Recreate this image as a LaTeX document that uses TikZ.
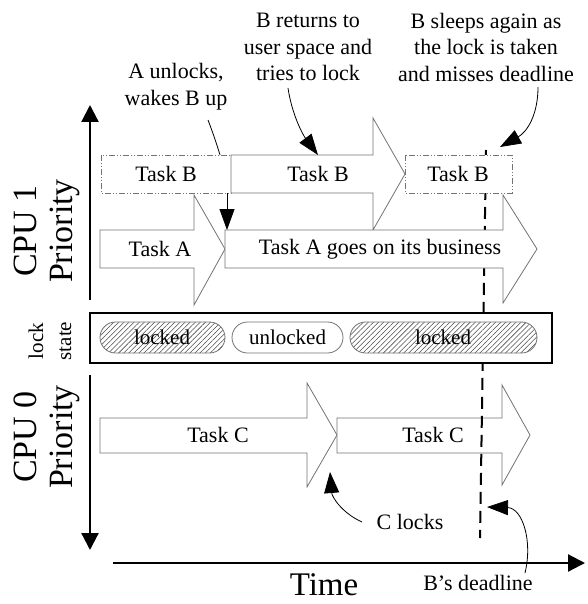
\documentclass[tikz,border=0pt]{standalone}
\usepackage{fontspec}
\setmainfont{Liberation Serif}
\usetikzlibrary{arrows.meta,patterns.meta}
\definecolor{outl}{gray}{0.45}
\definecolor{hatchc}{gray}{0.3}
\begin{document}
\begin{tikzpicture}[x=1pt,y=-1pt,
  tarrow/.style={draw=outl, line width=0.8pt, fill=white},
  dbox/.style={draw=outl, line width=0.8pt, fill=white, dash pattern=on 6pt off 2pt on 1pt off 2pt on 1pt off 2pt},
  lbl/.style={font=\fontsize{22}{26.5}\selectfont, inner sep=0pt, align=center},
  big/.style={font=\fontsize{34}{36}\selectfont, align=center, rotate=90, inner sep=0pt},
  axisline/.style={line width=2.2pt, -{Triangle[length=17pt,width=17pt]}},
  callout/.style={line width=0.8pt, -{Triangle[length=21pt,width=15pt]}},
  plainline/.style={line width=0.8pt},
  lockov/.style={draw=outl, line width=0.8pt, rounded corners=15.5pt},
  hatch/.style={lockov, pattern={Lines[angle=45,distance=3.6pt,line width=0.55pt]}, pattern color=hatchc}
]
\useasboundingbox (0,0) rectangle (587,604);

% CPU 0 tasks
\draw[tarrow] (100,418) -- (307,418) -- (307,383) -- (337,435) -- (307,487) -- (307,453) -- (100,453) -- cycle;
\node[lbl] (tc1) at (218,435) {Task C};
\draw[tarrow] (337,418) -- (502,418) -- (502,385) -- (530,435) -- (502,485) -- (502,453) -- (337,453) -- cycle;
\node[lbl] (tc2) at (433,435) {Task C};

% deadline
\coordinate (dtop) at (486,150);
\coordinate (dbot) at (480,538);
\draw[line width=2pt, dash pattern=on 12pt off 7pt] (dtop) -- (dbot);

% lock state
\node[draw, line width=2pt, fill=white, minimum width=462pt, minimum height=50pt, inner sep=0pt] (lockbox) at (321,338) {};
\draw[hatch] (100,322) rectangle (225,353);
\node[lbl, font=\fontsize{21}{25}\selectfont] (l1) at (162,337.5) {locked};
\draw[lockov, fill=white] (232,322) rectangle (343,353);
\node[lbl, font=\fontsize{21}{25}\selectfont] (l2) at (287.5,337.5) {unlocked};
\draw[hatch] (350,322) rectangle (537,353);
\node[lbl, font=\fontsize{21}{25}\selectfont] (l3) at (443,337.5) {locked};

% CPU 1 tasks
\draw[dbox] (101,155) rectangle (231,193);
\node[lbl] (tb1) at (166,174) {Task B};
\draw[tarrow] (231,155) -- (373,155) -- (373,118) -- (405,174) -- (373,230) -- (373,193) -- (231,193) -- cycle;
\node[lbl] (tb2) at (318,174) {Task B};
\draw[dbox] (405,155) rectangle (512,193);
\node[lbl] (tb3) at (458,174) {Task B};
\draw[tarrow] (100,230) -- (194,230) -- (194,195) -- (225,249) -- (194,305) -- (194,268) -- (100,268) -- cycle;
\node[lbl] (ta1) at (160,249) {Task A};
\draw[tarrow] (225,230) -- (503,230) -- (503,195) -- (537,249) -- (503,303) -- (503,268) -- (225,268) -- cycle;
\node[lbl] (ta2) at (380,249) {Task A goes on its business};

% axes
\coordinate (c1a) at (90,300); \coordinate (c1b) at (90,105);
\coordinate (c0a) at (90,375); \coordinate (c0b) at (90,550);
\coordinate (ta) at (113,563); \coordinate (tb) at (585,563);
\draw[axisline] (c1a) -- (c1b);
\draw[axisline] (c0a) -- (c0b);
\draw[axisline] (ta) -- (tb);

% side labels
\node[big] (cpu1) at (47,231) {CPU 1\\Priority};
\node[big] (cpu0) at (47,437) {CPU 0\\Priority};
\node[lbl, font=\fontsize{21}{28}\selectfont, rotate=90] (ls) at (50,341) {lock\\state};
\node[lbl, font=\fontsize{33}{36}\selectfont] (time) at (324,585) {Time};
\node[lbl] (dl) at (478,583) {B’s deadline};

% annotations
\node[lbl] (n1) at (176,86.5) {A unlocks,\\wakes B up};
\node[lbl] (n2) at (308,47) {B returns to\\user space and\\tries to lock};
\node[lbl] (n3) at (486,47) {B sleeps again as\\the lock is taken\\and misses deadline};
\node[lbl] (n4) at (410,522) {C locks};

\coordinate (a1s) at (208,120); \coordinate (a1e) at (220,155);
\coordinate (a2s) at (227,193); \coordinate (a2e) at (227,230);
\draw[plainline] (a1s) .. controls (213,133) and (217,145) .. (a1e);
\draw[callout] (a2s) -- (a2e);
\coordinate (b1s) at (288,88); \coordinate (b1e) at (318,155);
\draw[callout] (b1s) .. controls (292,115) and (303,135) .. (b1e);
\coordinate (s1s) at (538,87); \coordinate (s1e) at (500,147);
\draw[callout] (s1s) .. controls (538,115) and (527,132) .. (s1e);
\coordinate (c1s) at (362,522); \coordinate (c1e) at (330,472);
\draw[callout] (c1s) .. controls (342,513) and (332,497) .. (c1e);
\coordinate (d1s) at (525,573); \coordinate (d1e) at (487,507);
\draw[callout] (d1s) .. controls (533,540) and (522,508) .. (d1e);
\end{tikzpicture}
\end{document}
